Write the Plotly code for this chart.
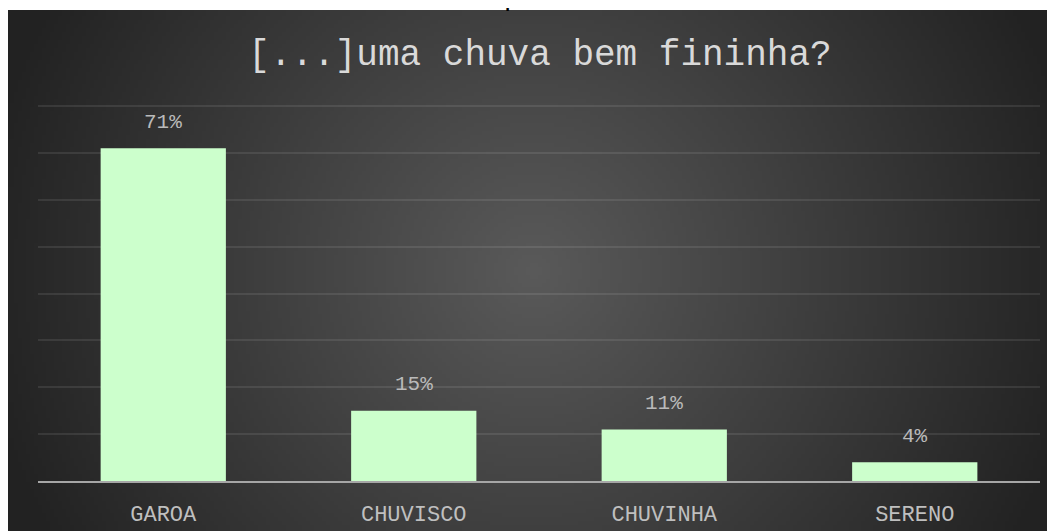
import base64
import struct
import zlib

import plotly.graph_objs as go

categories = ["GAROA", "CHUVISCO", "CHUVINHA", "SERENO"]
values = [71, 15, 11, 4]
value_labels = ["71%", "15%", "11%", "4%"]
grid_ticks = [0, 10, 20, 30, 40, 50, 60, 70, 80]

chart_title = "[...]uma chuva bem fininha?"
caption_bold = "Gráfico 6"
caption_rest = " – Ocorrências das variantes para \"uma chuva bem fininha\""

W, H = 1055, 531
# plot area in figure pixels (page is offset 8px by the body margin)
PL, PR, PT, PB = 30, 1032, 95, 473
# dark panel in figure pixels
XL, YT, XR, YB = 0, 2, 1047, 523
YTOP = 80 + (98 - PT) / (375 / 80)


def gradient_png(w, h, scale):
    # radial dark-grey background, lighter in the middle
    cx, cy = 523, 260
    raw = b""
    for j in range(h):
        row = b"\x00"
        for i in range(w):
            d = ((i * scale - cx) ** 2 + (j * scale - cy) ** 2) ** 0.5
            v = int(max(34, 90 - 0.1 * d))
            row += bytes((v, v, v))
        raw += row

    def chunk(tag, data):
        c = struct.pack(">I", len(data)) + tag + data
        return c + struct.pack(">I", zlib.crc32(tag + data) & 0xFFFFFFFF)

    png = b"\x89PNG\r\n\x1a\n"
    png += chunk(b"IHDR", struct.pack(">IIBBBBB", w, h, 8, 2, 0, 0, 0))
    png += chunk(b"IDAT", zlib.compress(raw, 9))
    png += chunk(b"IEND", b"")
    return "data:image/png;base64," + base64.b64encode(png).decode()


pw, ph = PR - PL, PB - PT
bg = gradient_png(262, 131, 4)

fig = go.Figure()
fig.add_trace(
    go.Bar(
        x=categories,
        y=values,
        width=0.5,
        marker=dict(color="#ccffcc", line=dict(width=0)),
        hoverinfo="skip",
    )
)

for c, v, t in zip(categories, values, value_labels):
    fig.add_annotation(
        x=c,
        y=v,
        text=t,
        showarrow=False,
        yanchor="middle",
        yshift=26,
        font=dict(family="Liberation Mono, monospace", size=21, color="#bababa"),
    )

# caption of the document, mostly cut off above the chart
fig.add_annotation(
    xref="paper",
    yref="paper",
    x=(9 - PL) / pw,
    y=(PB - 4.8) / ph,
    xanchor="left",
    yanchor="bottom",
    text="<b>" + caption_bold + "</b>" + caption_rest,
    showarrow=False,
    font=dict(family="Liberation Sans, Arial", size=28, color="#000000"),
)

fig.add_layout_image(
    source=bg,
    xref="paper",
    yref="paper",
    x=(XL - PL) / pw,
    y=(PB - YT) / ph,
    sizex=(XR - XL) / pw,
    sizey=(YB - YT) / ph,
    xanchor="left",
    yanchor="top",
    sizing="stretch",
    layer="below",
)

fig.update_layout(
    width=W,
    height=H,
    margin=dict(l=PL, r=W - PR, t=PT, b=H - PB),
    paper_bgcolor="#ffffff",
    plot_bgcolor="rgba(0,0,0,0)",
    showlegend=False,
    bargap=0.5,
    title=dict(
        text=chart_title,
        x=532 / W,
        xanchor="center",
        y=1 - 44 / H,
        yanchor="middle",
        font=dict(family="Liberation Mono, monospace", size=36, color="#d9d9d9"),
    ),
)
fig.update_xaxes(
    showline=True,
    linecolor="#a6a6a6",
    linewidth=2,
    showgrid=False,
    ticks="",
    ticklabelstandoff=12,
    tickfont=dict(family="Liberation Mono, monospace", size=22, color="#bfbfbf"),
)
fig.update_yaxes(
    range=[0, YTOP],
    tickvals=grid_ticks,
    showticklabels=False,
    showgrid=True,
    gridcolor="rgba(255,255,255,0.09)",
    gridwidth=1.5,
    zeroline=False,
)

fig.write_html("out.html")
